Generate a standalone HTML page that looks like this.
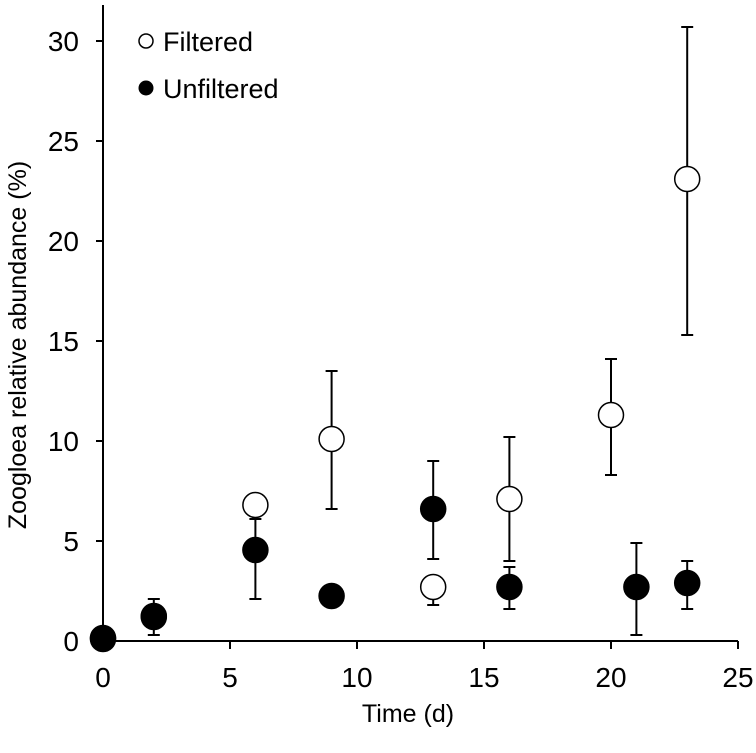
<!DOCTYPE html>
<html><head><meta charset="utf-8"><style>
body{margin:0;background:#fff}
svg{display:block;font-family:"Liberation Sans",Arial,sans-serif}
</style></head><body>
<svg id="c" width="756" height="753"></svg>
<script>
const filtX=[0,2,6,9,13,16,20,23];
const filtY=[0.1,1.2,6.8,10.1,2.7,7.1,11.3,23.1];
const filtHi=[0.1,1.2,6.8,13.5,2.7,10.2,14.1,30.7];
const filtLo=[0.1,1.2,6.8,6.6,1.8,4.0,8.3,15.3];
const unfX=[0,2,6,9,13,16,21,23];
const unfY=[0.15,1.25,4.55,2.25,6.6,2.7,2.7,2.9];
const unfHi=[0.15,2.1,6.1,2.25,9.0,3.7,4.9,4.0];
const unfLo=[0.15,0.3,2.1,2.25,4.1,1.6,0.3,1.6];
const xTicks=[0,5,10,15,20,25];
const yTicks=[0,5,10,15,20,25,30];
const NS="http://www.w3.org/2000/svg",svg=document.getElementById('c');
const X=v=>103+25.4*v, Y=v=>641-20*v;
function mk(t,a,p){const e=document.createElementNS(NS,t);for(const k in a)e.setAttribute(k,a[k]);(p||svg).appendChild(e);return e;}
let e;
e=mk('line',{x1:103,y1:5,x2:103,y2:641,stroke:'#000','stroke-width':2});


e=mk('line',{x1:103,y1:641,x2:X(25),y2:641,stroke:'#000','stroke-width':2});


yTicks.forEach(v=>{
 mk('line',{x1:96,y1:Y(v),x2:103,y2:Y(v),stroke:'#000','stroke-width':2});
 e=mk('text',{x:79,y:Y(v)+10,'text-anchor':'end','font-size':28});e.textContent=v;
 
 
});
xTicks.forEach(v=>{
 mk('line',{x1:X(v),y1:641,x2:X(v),y2:649,stroke:'#000','stroke-width':2});
 e=mk('text',{x:X(v),y:687,'text-anchor':'middle','font-size':28});e.textContent=v;
 
 
});
e=mk('text',{x:408,y:722,'text-anchor':'middle','font-size':25});e.textContent='Time (d)';


e=mk('text',{x:0,y:0,'text-anchor':'middle','font-size':25,transform:'translate(26,345) rotate(-90)'});e.textContent='Zoogloea relative abundance (%)';


function series(xs,ys,hi,lo,fill,name){
 xs.forEach((x,i)=>{
  if(hi[i]!==lo[i]){
   mk('line',{x1:X(x),y1:Y(hi[i]),x2:X(x),y2:Y(lo[i]),stroke:'#000','stroke-width':2});
   mk('line',{x1:X(x)-6,y1:Y(hi[i]),x2:X(x)+6,y2:Y(hi[i]),stroke:'#000','stroke-width':2});
   mk('line',{x1:X(x)-6,y1:Y(lo[i]),x2:X(x)+6,y2:Y(lo[i]),stroke:'#000','stroke-width':2});
  }
  e=mk('circle',{cx:X(x),cy:Y(ys[i]),r:12.5,fill:fill,stroke:'#000','stroke-width':1.5});
  
  
 });
}
series(filtX,filtY,filtHi,filtLo,'#fff','filtered');
series(unfX,unfY,unfHi,unfLo,'#000','unfiltered');
e=mk('circle',{cx:146,cy:41,r:7,fill:'#fff',stroke:'#000','stroke-width':1.5});


e=mk('text',{x:163,y:51,'font-size':27});e.textContent='Filtered';


e=mk('circle',{cx:146,cy:88,r:7.5,fill:'#000'});


e=mk('text',{x:163,y:98,'font-size':27});e.textContent='Unfiltered';


</script>
</body></html>
